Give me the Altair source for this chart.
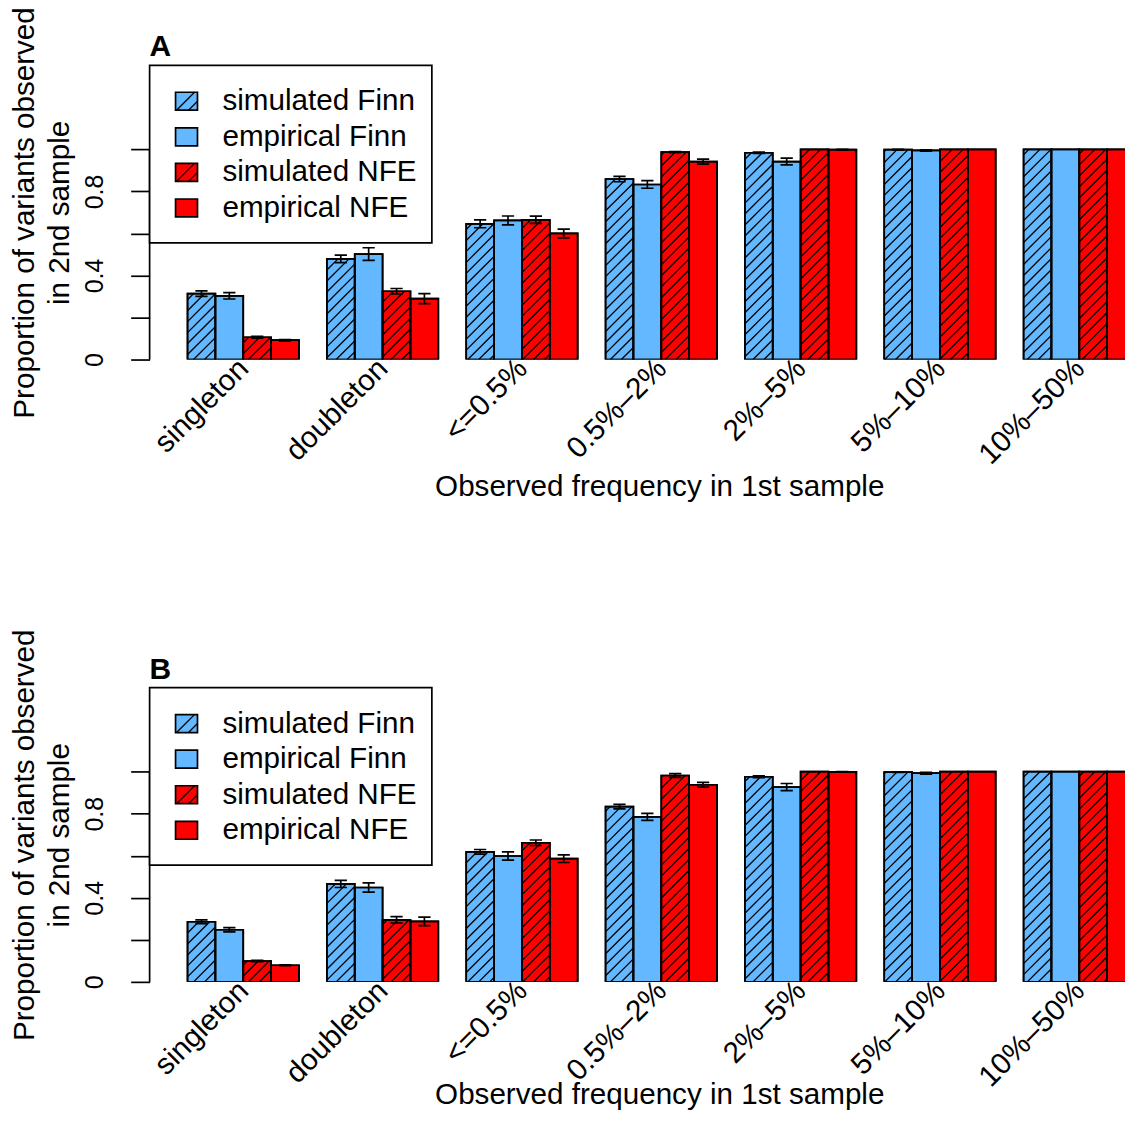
import math
import altair as alt
import pandas as pd

# ---------------- data ----------------
categories = ["singleton", "doubleton", "<=0.5%", "0.5%–2%", "2%–5%", "5%–10%", "10%–50%"]
series_names = ["simulated Finn", "empirical Finn", "simulated NFE", "empirical NFE"]
series_colors = ["#63B8FF", "#63B8FF", "#FF0000", "#FF0000"]
series_hatched = [True, False, True, False]

# Panel A
a_sim_finn = [0.314, 0.479, 0.646, 0.859, 0.984, 0.999, 1.0]
a_sim_finn_err = [0.013, 0.018, 0.019, 0.013, 0.003, 0.001, 0.0]
a_emp_finn = [0.303, 0.502, 0.662, 0.833, 0.942, 0.995, 1.0]
a_emp_finn_err = [0.015, 0.030, 0.021, 0.018, 0.016, 0.003, 0.0]
a_sim_nfe = [0.106, 0.325, 0.665, 0.987, 1.0, 1.0, 1.0]
a_sim_nfe_err = [0.004, 0.013, 0.017, 0.003, 0.0, 0.0, 0.0]
a_emp_nfe = [0.092, 0.290, 0.600, 0.942, 0.999, 1.0, 1.0]
a_emp_nfe_err = [0.003, 0.024, 0.021, 0.012, 0.001, 0.0, 0.0]

# Panel B
b_sim_finn = [0.286, 0.466, 0.619, 0.834, 0.976, 0.998, 1.0]
b_sim_finn_err = [0.009, 0.017, 0.011, 0.011, 0.004, 0.001, 0.0]
b_emp_finn = [0.248, 0.449, 0.599, 0.785, 0.927, 0.993, 1.0]
b_emp_finn_err = [0.010, 0.022, 0.020, 0.017, 0.017, 0.004, 0.0]
b_sim_nfe = [0.099, 0.295, 0.662, 0.982, 1.0, 1.0, 1.0]
b_sim_nfe_err = [0.003, 0.015, 0.013, 0.009, 0.0, 0.0, 0.0]
b_emp_nfe = [0.079, 0.288, 0.586, 0.938, 0.999, 1.0, 1.0]
b_emp_nfe_err = [0.002, 0.020, 0.018, 0.011, 0.001, 0.0, 0.0]

y_tick_values = [0, 0.2, 0.4, 0.6, 0.8, 1.0]
x_title = "Observed frequency in 1st sample"
y_title = ["Proportion of variants observed", "in 2nd sample"]

# ---------------- layout / style ----------------
FONT = "Liberation Sans"
W, H = 978, 295
XMIN, XMAX = -0.36, 34.64
YMAX = 1.4
HATCH = 11.0
PXX = W / (XMAX - XMIN)
PXY = H / YMAX
LW = 1.7
TITLE_FS = 29.7
XLAB_FS = 29.7
YLAB_FS = 25
LEG_FS = 29.7

xscale = alt.Scale(domain=[XMIN, XMAX], nice=False, zero=False)
yscale = alt.Scale(domain=[0, YMAX], nice=False, zero=True)


def bar_frame(vals, errs):
    rows = []
    for s in range(4):
        for g in range(len(categories)):
            x0 = 1 + 5 * g + s
            v = vals[s][g]
            e = errs[s][g]
            rows.append(dict(series=series_names[s], color=series_colors[s],
                             hatched=series_hatched[s], group=categories[g],
                             x0=x0, x1=x0 + 1, xc=x0 + 0.5, v=v, base=0.0,
                             err=e, lo=v - e, hi=v + e,
                             c0=x0 + 0.5 - 0.22, c1=x0 + 0.5 + 0.22))
    return pd.DataFrame(rows)


def hatch_frame(df):
    rows = []
    for r in df[df.hatched].itertuples():
        XL = (r.x0 - XMIN) * PXX
        XR = (r.x1 - XMIN) * PXX
        YT = r.v * PXY
        kmin = math.ceil(-XR / HATCH)
        kmax = math.floor((YT - XL) / HATCH)
        for k in range(kmin, kmax + 1):
            c = k * HATCH
            xa = max(XL, -c)
            xb = min(XR, YT - c)
            if xb - xa > 0.5:
                rows.append(dict(hx0=xa / PXX + XMIN, hy0=(xa + c) / PXY,
                                 hx1=xb / PXX + XMIN, hy1=(xb + c) / PXY))
    return pd.DataFrame(rows)


label_array = "[" + ",".join("'" + c + "'" for c in categories) + "]"
x_label_expr = label_array + "[round((datum.value - 3) / 5)]"
y_label_expr = ("datum.value == 0 ? '0' : (abs(datum.value - 0.4) < 0.01 ? '0.4' : "
                "(abs(datum.value - 0.8) < 0.01 ? '0.8' : ''))")


def make_xax(title_y):
    return alt.Axis(values=[3 + 5 * g for g in range(len(categories))],
                    labelExpr=x_label_expr, labelAngle=-45, labelAlign="right",
                    labelBaseline="middle", labelPadding=4, ticks=False, tickSize=0,
                    domain=False, grid=False, labelFontSize=XLAB_FS,
                    labelOverlap=False, labelFlush=False, labelBound=False,
                    title=x_title, titleFontSize=TITLE_FS, titleFontWeight="normal",
                    titleX=511, titleY=title_y, titleAlign="center",
                    titleBaseline="alphabetic")


yax = alt.Axis(values=y_tick_values, labelExpr=y_label_expr, labelAngle=-90,
               labelAlign="center", labelBaseline="alphabetic", labelPadding=28,
               tickSize=19, tickWidth=LW, tickColor="black", domain=False,
               grid=False, labelFontSize=YLAB_FS, labelOverlap=False,
               labelFlush=False, labelBound=False,
               title=y_title, titleFontSize=TITLE_FS, titleFontWeight="normal",
               titleX=-116, titleAlign="center", titleBaseline="alphabetic",
               titleLineHeight=35, titleAngle=270)


def panel(letter, vals, errs, title_y):
    xax = make_xax(title_y)

    def X(field):
        return alt.X(field, scale=xscale, axis=xax)

    def Y(field):
        return alt.Y(field, scale=yscale, axis=yax)

    df = bar_frame(vals, errs)
    hdf = hatch_frame(df)
    edf = df[df.err > 0]
    one = pd.DataFrame({"k": [0]})

    bars = alt.Chart(df).mark_rect(stroke="black", strokeWidth=LW, clip=True).encode(
        x=X("x0:Q"), x2="x1:Q", y=Y("v:Q"), y2="base:Q",
        fill=alt.Fill("color:N", scale=None),
    )
    hatch = alt.Chart(hdf).mark_rule(color="black", strokeWidth=1.3, clip=True).encode(
        x=X("hx0:Q"), y=Y("hy0:Q"), x2="hx1:Q", y2="hy1:Q",
    )
    outline = alt.Chart(df).mark_rect(fill="transparent", stroke="black",
                                      strokeWidth=LW, clip=True).encode(
        x=X("x0:Q"), x2="x1:Q", y=Y("v:Q"), y2="base:Q",
    )
    ebar = alt.Chart(edf).mark_rule(color="black", strokeWidth=LW, clip=True).encode(
        x=X("xc:Q"), y=Y("lo:Q"), y2="hi:Q",
    )
    cap_lo = alt.Chart(edf).mark_rule(color="black", strokeWidth=LW, clip=True).encode(
        x=X("c0:Q"), x2="c1:Q", y=Y("lo:Q"),
    )
    cap_hi = alt.Chart(edf).mark_rule(color="black", strokeWidth=LW, clip=True).encode(
        x=X("c0:Q"), x2="c1:Q", y=Y("hi:Q"),
    )
    yline = alt.Chart(one).mark_rule(color="black", strokeWidth=LW).encode(
        x=alt.value(0),
        y=alt.Y(datum=0, scale=yscale, axis=yax),
        y2=alt.datum(1),
    )

    layers = [bars, hatch, outline, ebar, cap_lo, cap_hi, yline]

    # legend (custom, to show hatching)
    layers.append(alt.Chart(one).mark_rect(fill="white", stroke="black", strokeWidth=LW).encode(
        x=alt.value(0), x2=alt.value(283), y=alt.value(0), y2=alt.value(178)))
    for i, (name, col, hat) in enumerate(zip(series_names, series_colors, series_hatched)):
        yc = 36 + 35.67 * i
        layers.append(alt.Chart(one).mark_rect(fill=col, stroke="black", strokeWidth=LW).encode(
            x=alt.value(26), x2=alt.value(48), y=alt.value(yc - 9), y2=alt.value(yc + 9)))
        if hat:
            layers.append(alt.Chart(one).mark_rule(color="black", strokeWidth=1.3).encode(
                x=alt.value(27), x2=alt.value(45), y=alt.value(yc + 9), y2=alt.value(yc - 9)))
            layers.append(alt.Chart(one).mark_rule(color="black", strokeWidth=1.3).encode(
                x=alt.value(39), x2=alt.value(48), y=alt.value(yc + 9), y2=alt.value(yc)))
        layers.append(alt.Chart(one).mark_text(text=name, font=FONT, fontSize=LEG_FS,
                                               align="left", baseline="middle",
                                               color="black").encode(
            x=alt.value(73), y=alt.value(yc)))

    layers.append(alt.Chart(one).mark_text(text=letter, font=FONT, fontSize=30,
                                           fontWeight="bold", align="left",
                                           baseline="alphabetic", color="black").encode(
        x=alt.value(0), y=alt.value(-9)))

    return alt.layer(*layers).properties(width=W, height=H)


pA = panel("A", [a_sim_finn, a_emp_finn, a_sim_nfe, a_emp_nfe],
           [a_sim_finn_err, a_emp_finn_err, a_sim_nfe_err, a_emp_nfe_err], 136)
pB = panel("B", [b_sim_finn, b_emp_finn, b_sim_nfe, b_emp_nfe],
           [b_sim_finn_err, b_emp_finn_err, b_sim_nfe_err, b_emp_nfe_err], 122)

chart = alt.vconcat(pA, pB, spacing=329, bounds="flush").properties(
    padding={"left": 1, "top": -4, "right": 0, "bottom": 0},
    background="white",
).configure_view(stroke="transparent").configure_axis(
    labelFont=FONT, titleFont=FONT, labelColor="black", titleColor="black"
)

chart.save("out.html", embed_options={"renderer": "svg", "actions": False})
